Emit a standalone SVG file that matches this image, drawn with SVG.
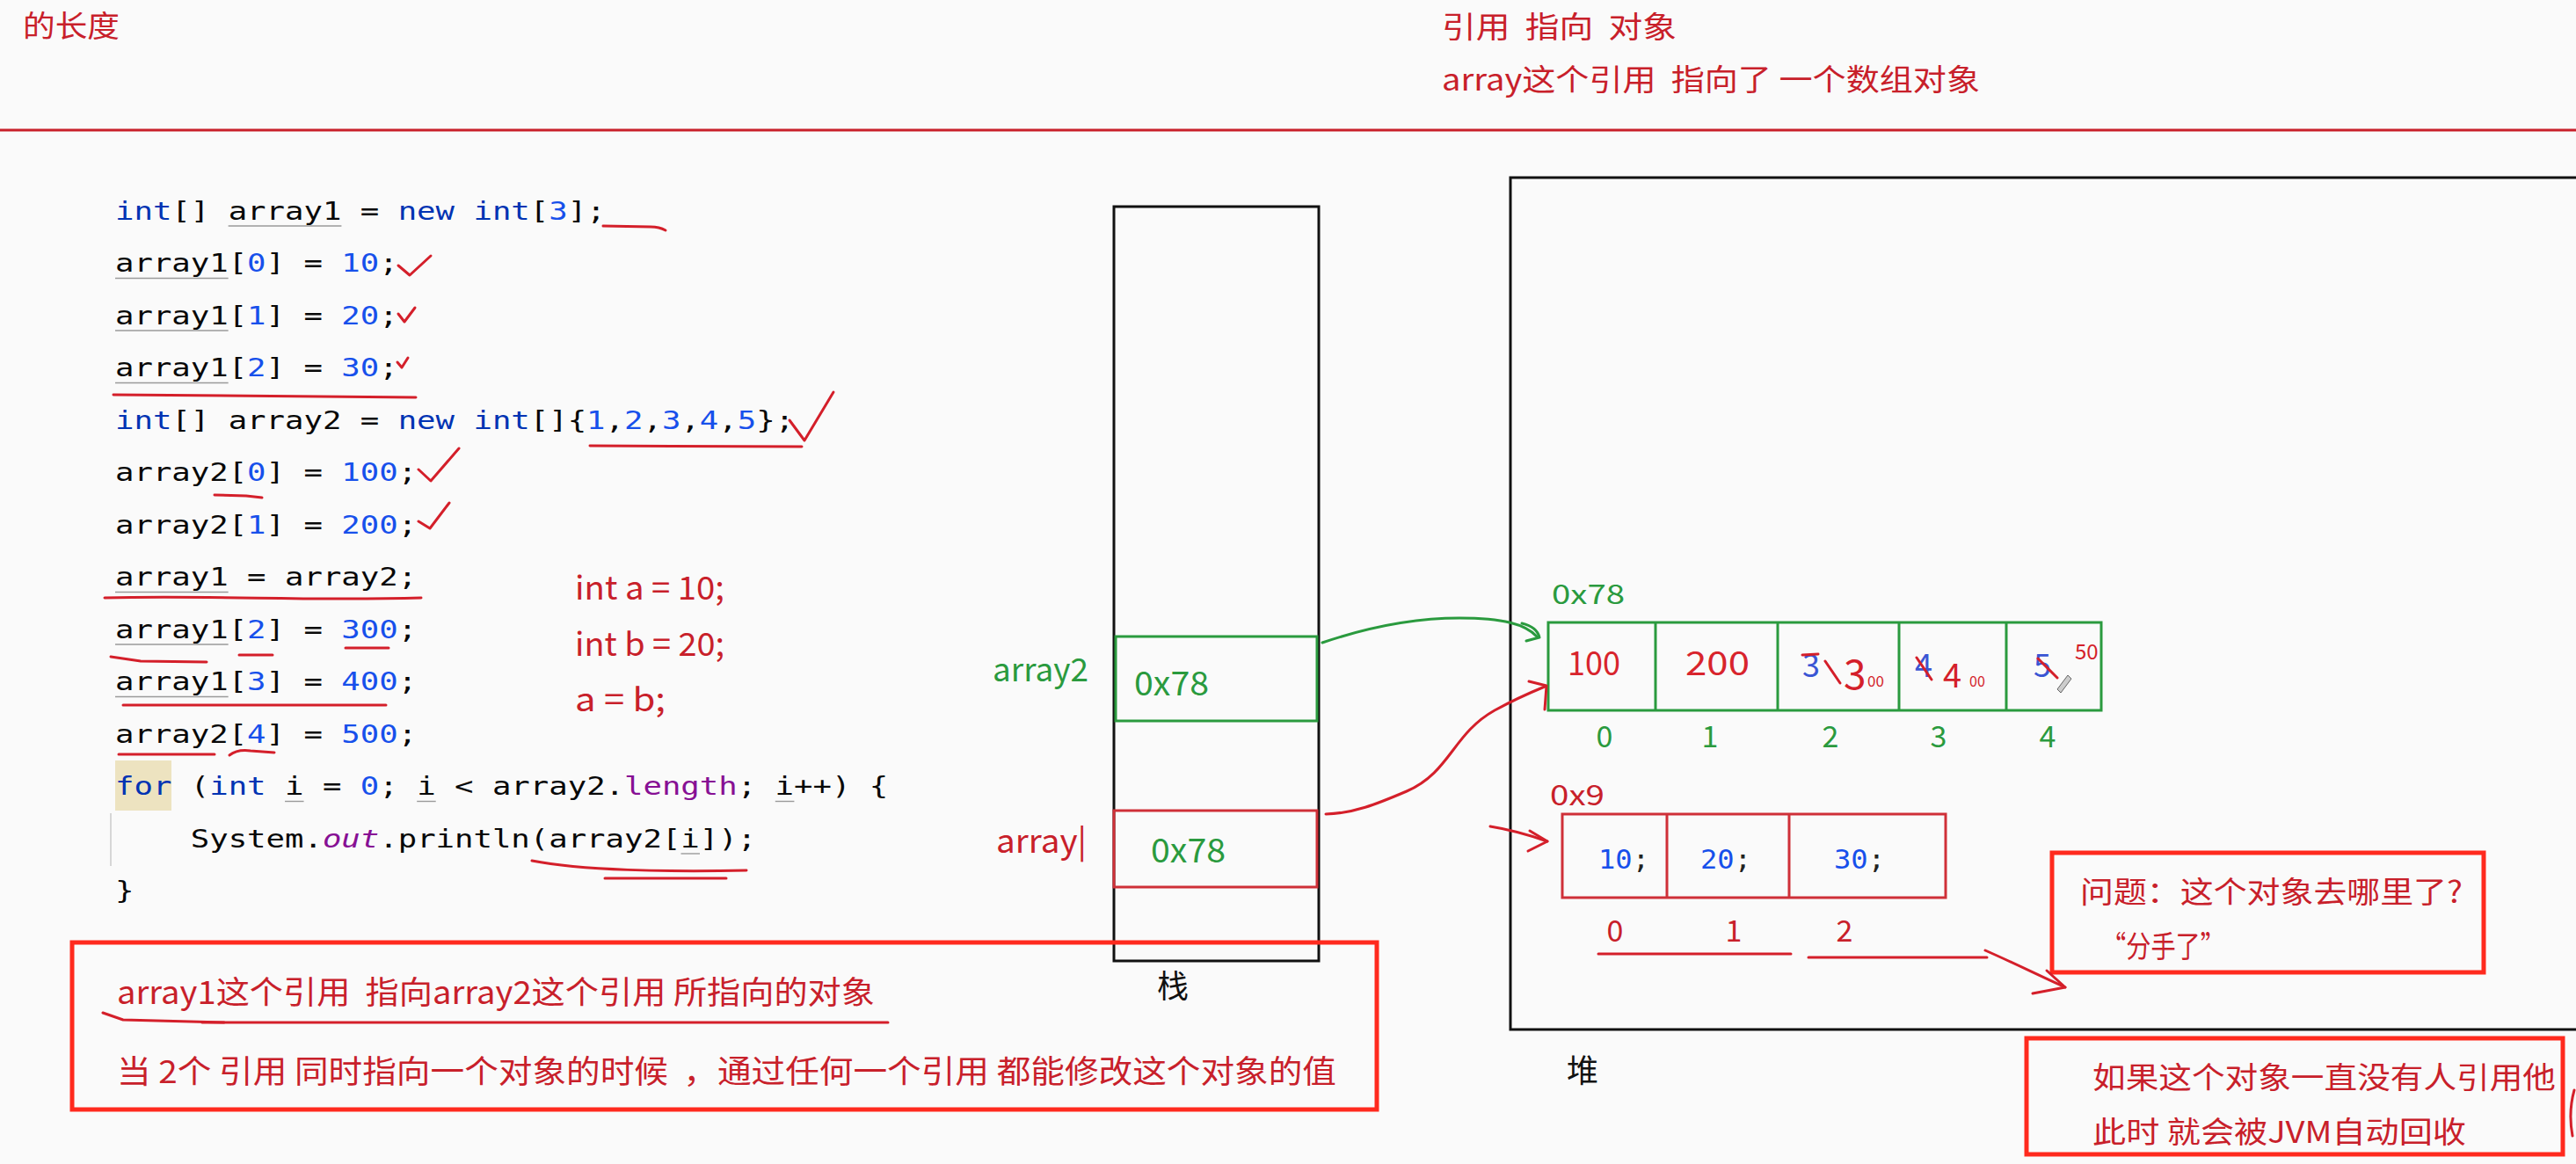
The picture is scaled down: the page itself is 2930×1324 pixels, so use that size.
<svg xmlns="http://www.w3.org/2000/svg" width="2930" height="1324" viewBox="0 0 2930 1324">
<style>
.cjk{font-family:"Noto Sans CJK SC","Noto Sans",sans-serif;}
.note{fill:#c8202a;}
.grn{fill:#2a9a3e;}
.code{font-family:"DejaVu Sans Mono","Liberation Mono",monospace;font-size:28px;fill:#080808;white-space:pre;}
.k{fill:#0033b3;}
.n{fill:#1750eb;}
.f{fill:#871094;}
.fi{fill:#871094;font-style:italic;}
.ul{stroke:#9a9a9a;stroke-width:1.4;fill:none;}
.hand{fill:none;stroke:#d41f2a;stroke-width:3;stroke-linecap:round;stroke-linejoin:round;}
.box{fill:none;stroke:#ff2a1e;stroke-width:5;}
.blk{fill:none;stroke:#111;stroke-width:3;}
.gbox{fill:none;stroke:#2a9a3e;stroke-width:3;}
.rbox{fill:none;stroke:#cf3038;stroke-width:3;}
.mono{font-family:"DejaVu Sans Mono","Liberation Mono",monospace;}
</style>
<rect x="0" y="0" width="2930" height="1324" fill="#fafafa"/>

<g id="header">
<text class="cjk note" x="26" y="42" font-size="34" textLength="110" lengthAdjust="spacingAndGlyphs">的长度</text>
<text class="cjk note" x="1640" y="43" font-size="34" textLength="267" lengthAdjust="spacingAndGlyphs" xml:space="preserve">引用  指向  对象</text>
<text class="cjk note" x="1640" y="103" font-size="34" textLength="612" lengthAdjust="spacingAndGlyphs" xml:space="preserve">array这个引用  指向了 一个数组对象</text>
<line x1="0" y1="148" x2="2930" y2="148" stroke="#c8202a" stroke-width="3"/>
</g>

<g id="code">
<rect x="131" y="865" width="64" height="57" fill="#ede3c0"/>
<line x1="126" y1="925" x2="126" y2="985" stroke="#d6d6d6" stroke-width="2"/>
<g transform="translate(131,0) scale(1.2725,1)">
<text class="code" x="0" y="250" xml:space="preserve"><tspan class="k">int</tspan>[] array1 = <tspan class="k">new int</tspan>[<tspan class="n">3</tspan>];</text>
<text class="code" x="0" y="309.5" xml:space="preserve">array1[<tspan class="n">0</tspan>] = <tspan class="n">10</tspan>;</text>
<text class="code" x="0" y="369" xml:space="preserve">array1[<tspan class="n">1</tspan>] = <tspan class="n">20</tspan>;</text>
<text class="code" x="0" y="428.5" xml:space="preserve">array1[<tspan class="n">2</tspan>] = <tspan class="n">30</tspan>;</text>
<text class="code" x="0" y="488" xml:space="preserve"><tspan class="k">int</tspan>[] array2 = <tspan class="k">new int</tspan>[]{<tspan class="n">1</tspan>,<tspan class="n">2</tspan>,<tspan class="n">3</tspan>,<tspan class="n">4</tspan>,<tspan class="n">5</tspan>};</text>
<text class="code" x="0" y="547.5" xml:space="preserve">array2[<tspan class="n">0</tspan>] = <tspan class="n">100</tspan>;</text>
<text class="code" x="0" y="607" xml:space="preserve">array2[<tspan class="n">1</tspan>] = <tspan class="n">200</tspan>;</text>
<text class="code" x="0" y="666.5" xml:space="preserve">array1 = array2;</text>
<text class="code" x="0" y="726" xml:space="preserve">array1[<tspan class="n">2</tspan>] = <tspan class="n">300</tspan>;</text>
<text class="code" x="0" y="785.5" xml:space="preserve">array1[<tspan class="n">3</tspan>] = <tspan class="n">400</tspan>;</text>
<text class="code" x="0" y="845" xml:space="preserve">array2[<tspan class="n">4</tspan>] = <tspan class="n">500</tspan>;</text>
<text class="code" x="0" y="904.5" xml:space="preserve"><tspan class="k">for</tspan> (<tspan class="k">int</tspan> i = <tspan class="n">0</tspan>; i &lt; array2.<tspan class="f">length</tspan>; i++) {</text>
<text class="code" x="67.43" y="964" xml:space="preserve">System.<tspan class="fi">out</tspan>.println(array2[i]);</text>
<text class="code" x="0" y="1023.5" xml:space="preserve">}</text>
<line class="ul" x1="101.1" y1="257" x2="202.3" y2="257"/>
<line class="ul" x1="0" y1="316.5" x2="101.1" y2="316.5"/>
<line class="ul" x1="0" y1="376" x2="101.1" y2="376"/>
<line class="ul" x1="0" y1="435.5" x2="101.1" y2="435.5"/>
<line class="ul" x1="0" y1="673.5" x2="101.1" y2="673.5"/>
<line class="ul" x1="0" y1="733" x2="101.1" y2="733"/>
<line class="ul" x1="0" y1="792.5" x2="101.1" y2="792.5"/>
<line class="ul" x1="151.7" y1="911.5" x2="168.6" y2="911.5"/>
<line class="ul" x1="269.7" y1="911.5" x2="286.6" y2="911.5"/>
<line class="ul" x1="590" y1="911.5" x2="607" y2="911.5"/>
<line class="ul" x1="505.7" y1="971" x2="522.6" y2="971"/>
</g>
</g>

<g id="code-marks">
<path class="hand" d="M686,257 L740,258 Q750,258 757,262"/>
<path class="hand" d="M453,302 L466,313 L490,291"/>
<path class="hand" d="M453,357 L460,366 L472,350" stroke-width="2.5"/>
<path class="hand" d="M452,412 L457,418 L464,407" stroke-width="2.5"/>
<path class="hand" d="M129,449 L473,452" stroke-width="4"/>
<path class="hand" d="M671,507 L912,508" stroke-width="3.5"/>
<path class="hand" d="M898,478 L915,501 L948,446"/>
<path class="hand" d="M244,563 L280,564 L298,566"/>
<path class="hand" d="M476,534 L490,547 L522,510"/>
<path class="hand" d="M476,593 L489,601 L511,572"/>
<path class="hand" d="M119,680 C250,677 350,684 479,680" stroke-width="3.5"/>
<path class="hand" d="M126,747 L160,752 L235,753"/>
<path class="hand" d="M272,745 L310,745"/>
<path class="hand" d="M393,737 L442,737"/>
<path class="hand" d="M140,802 L439,802"/>
<path class="hand" d="M135,858 L244,858"/>
<path class="hand" d="M261,859 Q270,852 285,854 L312,856"/>
<path class="hand" d="M605,979 C660,990 760,992 849,990"/>
<path class="hand" d="M688,999 L826,999"/>
<text class="cjk note" x="654" y="682" font-size="37" textLength="170" lengthAdjust="spacingAndGlyphs">int a = 10;</text>
<text class="cjk note" x="654" y="746" font-size="37" textLength="170" lengthAdjust="spacingAndGlyphs">int b = 20;</text>
<text class="cjk note" x="654" y="809" font-size="37" textLength="103" lengthAdjust="spacingAndGlyphs">a = b;</text>
</g>

<g id="stack">
<rect class="blk" x="1267" y="235" width="233" height="858"/>
<rect class="gbox" x="1269" y="724" width="229" height="96"/>
<rect class="rbox" x="1267" y="922" width="231" height="87"/>
<text class="cjk grn" x="1129" y="775" font-size="37" textLength="109" lengthAdjust="spacingAndGlyphs">array2</text>
<text class="cjk note" x="1133" y="970" font-size="37" textLength="103" lengthAdjust="spacingAndGlyphs">array|</text>
<text class="cjk grn" x="1290" y="791" font-size="38" textLength="85" lengthAdjust="spacingAndGlyphs">0x78</text>
<text class="cjk grn" x="1309" y="981" font-size="38" textLength="85" lengthAdjust="spacingAndGlyphs">0x78</text>
<text class="cjk" x="1316" y="1135" font-size="36" fill="#111">栈</text>
</g>

<g id="heap">
<rect class="blk" x="1718" y="202" width="1300" height="969"/>
<text class="cjk" x="1782" y="1231" font-size="36" fill="#111">堆</text>
</g>

<g id="array-0x78">
<text class="cjk grn" x="1765" y="687" font-size="30" textLength="83" lengthAdjust="spacingAndGlyphs">0x78</text>
<rect class="gbox" x="1761" y="708" width="629" height="100"/>
<line class="gbox" x1="1883" y1="708" x2="1883" y2="808"/>
<line class="gbox" x1="2022" y1="708" x2="2022" y2="808"/>
<line class="gbox" x1="2160" y1="708" x2="2160" y2="808"/>
<line class="gbox" x1="2282" y1="708" x2="2282" y2="808"/>
<text class="cjk" x="1783" y="768" font-size="38" fill="#d8242c" textLength="60" lengthAdjust="spacingAndGlyphs">100</text>
<text class="cjk" x="1917" y="768" font-size="38" fill="#d8242c" textLength="73" lengthAdjust="spacingAndGlyphs">200</text>
<text class="cjk" x="2050" y="770" font-size="36" fill="#3a56d4">3</text>
<path class="hand" d="M2050,745 L2068,744 M2076,752 L2093,777"/>
<text class="cjk" x="2097" y="784" font-size="46" fill="#d41f2a">3</text>
<text class="cjk" x="2124" y="781" font-size="17" fill="#d41f2a">00</text>
<text class="cjk" x="2178" y="770" font-size="36" fill="#3a56d4">4</text>
<path class="hand" d="M2180,748 L2197,773"/>
<text class="cjk" x="2210" y="782" font-size="38" fill="#d41f2a">4</text>
<text class="cjk" x="2240" y="781" font-size="16" fill="#d41f2a">00</text>
<text class="cjk" x="2313" y="770" font-size="36" fill="#3a56d4">5</text>
<path class="hand" d="M2318,749 L2340,771"/>
<path d="M2340,784 L2352,768 L2356,772 L2344,788 Z" fill="#ccc" stroke="#666" stroke-width="1"/>
<text class="cjk" x="2360" y="750" font-size="24" fill="#d41f2a">50</text>
<g class="cjk grn" font-size="34" text-anchor="middle">
<text x="1825" y="850">0</text>
<text x="1945" y="850">1</text>
<text x="2082" y="850">2</text>
<text x="2205" y="850">3</text>
<text x="2329" y="850">4</text>
</g>
</g>

<g id="array-0x9">
<text class="cjk note" x="1763" y="916" font-size="32" textLength="62" lengthAdjust="spacingAndGlyphs">0x9</text>
<rect class="rbox" x="1777" y="926" width="436" height="95"/>
<line class="rbox" x1="1896" y1="926" x2="1896" y2="1021"/>
<line class="rbox" x1="2035" y1="926" x2="2035" y2="1021"/>
<g class="mono" font-size="30" fill="#222">
<text x="1818" y="988" textLength="58" lengthAdjust="spacingAndGlyphs"><tspan fill="#1750eb">10</tspan>;</text>
<text x="1934" y="988" textLength="58" lengthAdjust="spacingAndGlyphs"><tspan fill="#1750eb">20</tspan>;</text>
<text x="2086" y="988" textLength="58" lengthAdjust="spacingAndGlyphs"><tspan fill="#1750eb">30</tspan>;</text>
</g>
<g class="cjk note" font-size="34" text-anchor="middle">
<text x="1837" y="1071">0</text>
<text x="1972" y="1071">1</text>
<text x="2098" y="1071">2</text>
</g>
</g>

<g id="note-bottom">
<rect class="box" x="82" y="1072" width="1484" height="190"/>
<text class="cjk note" x="133" y="1142" font-size="36" textLength="862" lengthAdjust="spacingAndGlyphs" xml:space="preserve">array1这个引用  指向array2这个引用 所指向的对象</text>
<path class="hand" d="M117,1152 L140,1160 L255,1163"/>
<path class="hand" d="M230,1163 L1010,1163" stroke-width="6"/>
<text class="cjk note" x="133" y="1232" font-size="36" textLength="1387" lengthAdjust="spacingAndGlyphs" xml:space="preserve">当 2个 引用 同时指向一个对象的时候  ，通过任何一个引用 都能修改这个对象的值</text>
</g>

<g id="note-question">
<rect class="box" x="2334" y="970" width="491" height="136"/>
<text class="cjk note" x="2366" y="1027" font-size="34" textLength="435" lengthAdjust="spacingAndGlyphs">问题：这个对象去哪里了?</text>
<text class="cjk note" x="2390" y="1089" font-size="34" textLength="141" lengthAdjust="spacingAndGlyphs">“分手了”</text>
</g>

<g id="note-gc">
<rect class="box" x="2305" y="1181" width="610" height="132"/>
<text class="cjk note" x="2380" y="1238" font-size="34" textLength="527" lengthAdjust="spacingAndGlyphs">如果这个对象一直没有人引用他</text>
<text class="cjk note" x="2380" y="1300" font-size="34" textLength="425" lengthAdjust="spacingAndGlyphs">此时 就会被JVM自动回收</text>
<path class="hand" d="M2928,1240 Q2921,1265 2926,1292"/>
</g>

<g id="connectors">
<path d="M1504,731 C1560,712 1610,703 1660,703 C1710,703 1735,710 1748,724" fill="none" stroke="#2a9a3e" stroke-width="3" stroke-linecap="round"/>
<path d="M1731,709 Q1748,713 1751,725 L1736,729" fill="none" stroke="#2a9a3e" stroke-width="3" stroke-linecap="round" stroke-linejoin="round"/>
<path class="hand" d="M1508,926 C1540,925 1565,915 1600,900 C1650,878 1652,835 1700,808 C1722,796 1740,788 1757,781"/>
<path class="hand" d="M1739,775 L1759,780 L1757,807"/>
<path class="hand" d="M1695,940 C1720,944 1740,950 1760,957"/>
<path class="hand" d="M1740,945 L1760,957 L1738,968"/>
<path class="hand" d="M1818,1085 L2037,1085 M2057,1089 L2260,1089"/>
<path class="hand" d="M2258,1081 C2290,1095 2320,1110 2349,1123"/>
<path class="hand" d="M2312,1130 L2349,1123 L2328,1104"/>
</g>
</svg>
